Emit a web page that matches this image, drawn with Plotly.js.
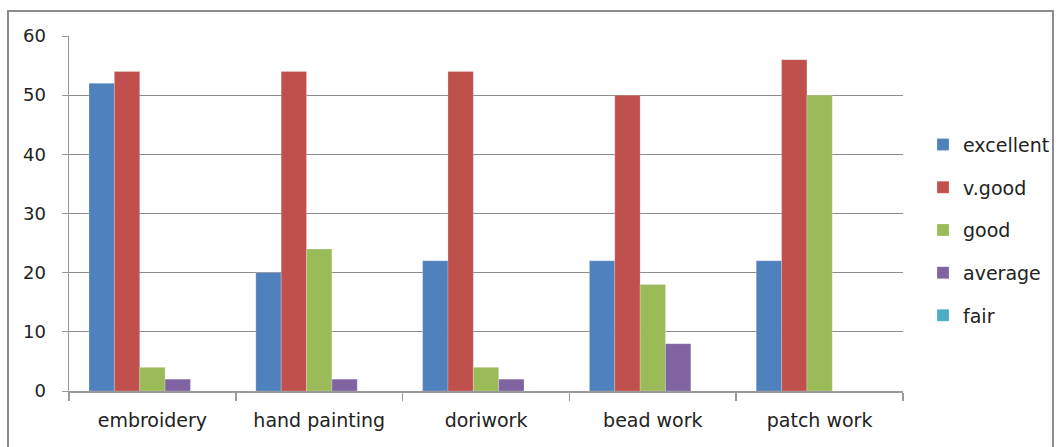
<!DOCTYPE html>
<html><head><meta charset="utf-8">
<script src="https://cdn.plot.ly/plotly-3.0.1.min.js"></script>
<style>html,body{margin:0;padding:0;background:#fff;}#wrap{position:relative;width:1061px;height:447px;}
#frame{position:absolute;left:7px;top:10px;width:1047px;height:445px;border:2px solid #8c8c8c;box-sizing:border-box;pointer-events:none;}</style>
</head><body><div id="wrap"><div id="chart" style="width:1061px;height:447px;"></div><div id="frame"></div></div>
<script>
const categories = ["embroidery", "hand painting", "doriwork", "bead work", "patch work"];
const excellent = [52, 20, 22, 22, 22];
const vgood = [54, 54, 54, 50, 56];
const good = [4, 24, 4, 18, 50];
const average = [2, 2, 2, 8, 0];
const fair = [0, 0, 0, 0, 0];
const seriesNames = ["excellent", "v.good", "good", "average", "fair"];
const seriesColors = ["#4F81BD", "#C0504D", "#9BBB59", "#8064A2", "#4BACC6"];
const seriesValues = [excellent, vgood, good, average, fair];

const traces = seriesValues.map((vals, i) => ({
  type: "bar", x: categories, y: vals, name: seriesNames[i], legendgroup: "g" + i,
  marker: {color: seriesColors[i], line: {color: "rgba(255,255,255,0.4)", width: 0.5}},
  hoverinfo: "x+y+name"
}));

const fam = "'DejaVu Sans', sans-serif";
const layout = {
  width: 1061, height: 447,
  margin: {l: 69, r: 158, t: 36, b: 56, autoexpand: false},
  paper_bgcolor: "#fff", plot_bgcolor: "#fff",
  barmode: "group", bargap: 0.24, bargroupgap: 0,
  font: {family: fam, size: 18, color: "#222"},
  showlegend: true,
  legend: {x: 1.024, y: 0.453, xanchor: "left", yanchor: "middle", traceorder: "grouped", tracegroupgap: 15,
           font: {family: fam, size: 19, color: "#222"}, itemwidth: 30},
  xaxis: {type: "category", showgrid: false, showline: true, linecolor: "#999", linewidth: 1.5,
          ticks: "outside", tickson: "boundaries", ticklen: 8, tickcolor: "#999", tickwidth: 1.5,
          ticklabelstandoff: 12,
          tickfont: {family: fam, size: 19, color: "#222"}, fixedrange: true},
  yaxis: {range: [0, 60], dtick: 10, showgrid: true, gridcolor: "#8c8c8c", gridwidth: 1,
          showline: true, linecolor: "#999", linewidth: 1.5, zeroline: false,
          ticks: "outside", ticklen: 6, tickcolor: "#999", tickwidth: 1, ticklabelstandoff: 12,
          tickfont: {family: fam, size: 18, color: "#222"}, fixedrange: true}
};
Plotly.newPlot("chart", traces, layout, {displayModeBar: false, staticPlot: true});
</script></body></html>
